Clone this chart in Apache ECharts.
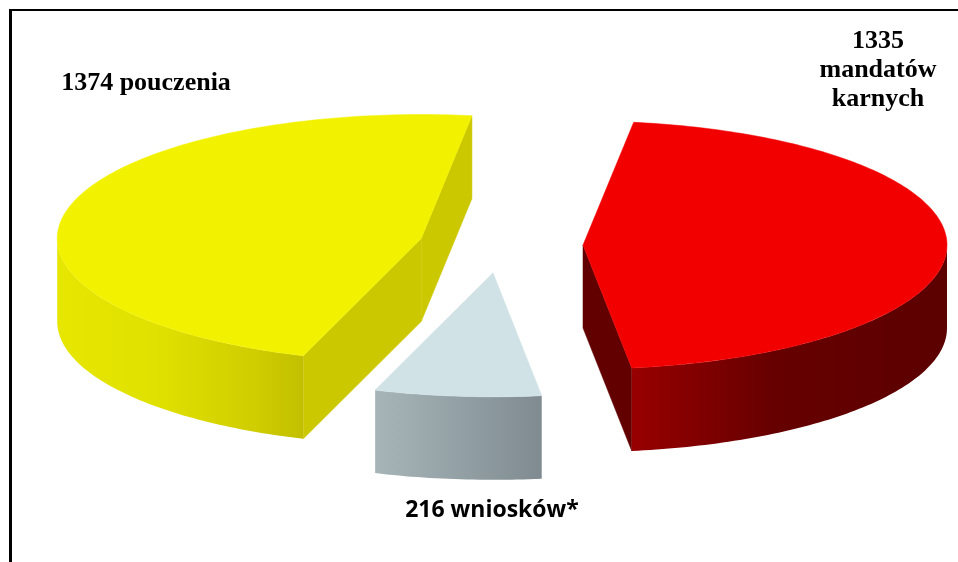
<!DOCTYPE html>
<html><head><meta charset="utf-8">
<script src="https://cdn.jsdelivr.net/npm/echarts@6/dist/echarts.min.js"></script>
<style>html,body{margin:0;padding:0;background:#fff}#chart{width:958px;height:562px}</style>
</head><body><div id="chart"></div>
<script>
// ---- data ----
const categories = ['pouczenia', 'wniosków*', 'mandatów karnych'];
const values = [1374, 216, 1335];

// ---- styles ----
const topColors = ['#F2F200', '#D0E2E6', '#F20000'];
const cutColors = ['#CCC800', '#8E9A9E', '#620000'];
const sideStops = [
  [[0, '#E6E600'], [0.4, '#E1E100'], [0.8, '#D0CD00'], [1, '#C2BF00']],
  [[0, '#A7B5B9'], [1, '#7F8B90']],
  [[0, '#980000'], [0.45, '#660000'], [1, '#5C0000']]
];
const START = 82, CX = 501, CY = 245, RX = 364, RY = 124, H = 83, EXPLODE = 82;

const total = values.reduce((a, b) => a + b, 0);
const rad = d => d * Math.PI / 180;

function renderItem(params, api) {
  const i = params.dataIndex;
  let cum = 0;
  for (let k = 0; k < i; k++) cum += values[k];
  const a0 = START + 360 * cum / total;
  const a1 = a0 + 360 * api.value(0) / total;
  const b = (a0 + a1) / 2;
  const cx = CX + EXPLODE * Math.cos(rad(b));
  const cy = CY - EXPLODE * (RY / RX) * Math.sin(rad(b));
  const P = (t, dy) => [cx + RX * Math.cos(rad(t)), cy - RY * Math.sin(rad(t)) + dy];
  const arc = (from, to, dy) => {
    const pts = [];
    const n = Math.max(2, Math.ceil(Math.abs(to - from)));
    for (let k = 0; k <= n; k++) pts.push(P(from + (to - from) * k / n, dy));
    return pts;
  };
  const children = [];
  // cut faces
  const faces = [];
  if (Math.cos(rad(a0)) > 0) faces.push(a0);
  if (Math.cos(rad(a1)) < 0) faces.push(a1);
  faces.forEach(a => {
    const p = P(a, 0);
    children.push({
      type: 'polygon', z2: 1,
      shape: { points: [[cx, cy], p, [p[0], p[1] + H], [cx, cy + H]] },
      style: { fill: cutColors[i], stroke: cutColors[i], lineWidth: 0.5 }
    });
  });
  // outer side
  [[180, 360], [540, 720]].forEach(([lo, hi]) => {
    const s = Math.max(a0, lo), e = Math.min(a1, hi);
    if (s < e) {
      const pts = arc(s, e, 0).concat(arc(e, s, H));
      children.push({
        type: 'polygon', z2: 2,
        shape: { points: pts },
        style: { fill: new echarts.graphic.LinearGradient(0, 0, 1, 0, sideStops[i].map(([o, c]) => ({ offset: o, color: c }))) }
      });
    }
  });
  // top face
  children.push({
    type: 'polygon', z2: 3,
    shape: { points: [[cx, cy]].concat(arc(a0, a1, 0)) },
    style: { fill: topColors[i], stroke: topColors[i], lineWidth: 0.5 }
  });
  return { type: 'group', children };
}

const chart = echarts.init(document.getElementById('chart'), null, { renderer: 'canvas' });
const serif = '"Liberation Serif", "Times New Roman", serif';
chart.setOption({
  animation: false,
  series: [{
    type: 'custom',
    coordinateSystem: 'none',
    silent: true,
    data: values.map((v, i) => ({ name: categories[i], value: [v] })),
    renderItem
  }],
  graphic: [
    { type: 'rect', shape: { x: 9, y: 9, width: 3, height: 560 }, style: { fill: '#000' } },
    { type: 'rect', shape: { x: 9, y: 9, width: 949, height: 2 }, style: { fill: '#000' } },
    { type: 'text', x: 146, y: 83, style: { text: values[0] + ' ' + categories[0], font: 'bold 26px ' + serif, fill: '#000', textAlign: 'center', textVerticalAlign: 'middle' } },
    { type: 'text', x: 878, y: 41, style: { text: String(values[2]), font: 'bold 26px ' + serif, fill: '#000', textAlign: 'center', textVerticalAlign: 'middle' } },
    { type: 'text', x: 878, y: 70, style: { text: categories[2].split(' ')[0], font: 'bold 26px ' + serif, fill: '#000', textAlign: 'center', textVerticalAlign: 'middle' } },
    { type: 'text', x: 878, y: 99, style: { text: categories[2].split(' ')[1], font: 'bold 26px ' + serif, fill: '#000', textAlign: 'center', textVerticalAlign: 'middle' } },
    { type: 'text', x: 492, y: 510, style: { text: values[1] + ' ' + categories[1], font: 'bold 23px "Open Sans", sans-serif', fill: '#000', textAlign: 'center', textVerticalAlign: 'middle' } }
  ]
});
</script>
</body></html>
